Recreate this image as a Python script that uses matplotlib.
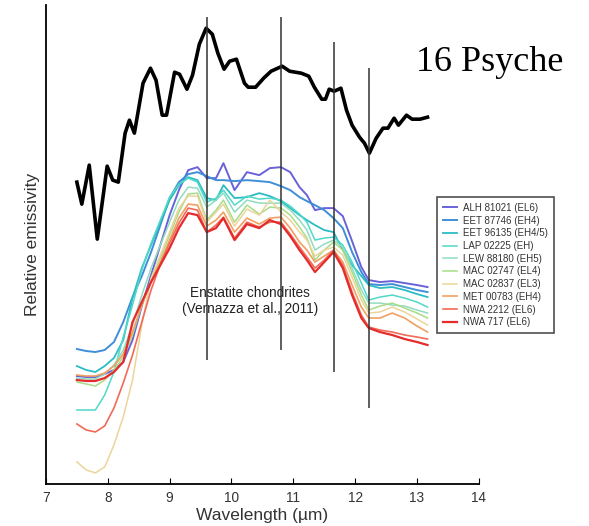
import matplotlib.pyplot as plt

plt.rcParams['font.family'] = ['Liberation Sans', 'DejaVu Sans']

# 16 Psyche spectrum (arbitrary units)
psyche_wl = [7.50, 7.58, 7.70, 7.83, 7.99, 8.08, 8.17, 8.28, 8.35, 8.43, 8.57, 8.69, 8.78, 8.88,
             8.95, 9.08, 9.16, 9.28, 9.37, 9.48, 9.59, 9.69, 9.78, 9.88, 9.97, 10.08, 10.21, 10.27,
             10.39, 10.52, 10.64, 10.82, 10.94, 11.13, 11.25, 11.34, 11.46, 11.52, 11.58, 11.66,
             11.77, 11.86, 11.95, 12.07, 12.15, 12.23, 12.34, 12.45, 12.53, 12.63, 12.70, 12.83,
             12.92, 13.05, 13.17]
psyche_em = [302, 280, 319, 245, 318, 304, 302, 351, 364, 351, 401, 416, 404, 369,
             369, 412, 410, 395, 409, 440, 456, 450, 431, 415, 423, 425, 401, 397,
             397, 406, 413, 418, 413, 411, 408, 397, 385, 385, 395, 393,
             396, 374, 359, 347, 341, 331, 346, 356, 356, 366, 359, 369,
             365, 365, 367]

# enstatite chondrite lab spectra (Vernazza et al., 2011)
lab_wl = [7.5, 7.65, 7.8, 7.95, 8.1, 8.25, 8.4, 8.55, 8.7, 8.85, 9.0, 9.15, 9.3, 9.45, 9.6,
          9.75, 9.87, 10.05, 10.25, 10.45, 10.62, 10.8, 10.95, 11.1, 11.22, 11.35, 11.5, 11.65,
          11.8, 11.95, 12.1, 12.22, 12.4, 12.6, 12.8, 13.0, 13.17]

names = ['ALH 81021 (EL6)', 'EET 87746 (EH4)', 'EET 96135 (EH4/5)', 'LAP 02225 (EH)',
         'LEW 88180 (EH5)', 'MAC 02747 (EL4)', 'MAC 02837 (EL3)', 'MET 00783 (EH4)',
         'NWA 2212 (EL6)', 'NWA 717 (EL6)']
colors = ['#6a62d8', '#3f8fd8', '#2cbcc4', '#50d8c8', '#90dcc0', '#a8dc88',
          '#ecd49a', '#f0a060', '#f06a58', '#e52b2b']
widths = [1.4, 1.4, 1.3, 1.1, 1.1, 1.1, 1.1, 1.2, 1.2, 1.6]

alh = [108, 107, 107, 110, 114, 122, 144, 178, 209, 239, 269, 294, 314, 317, 306,
       306, 321, 294, 312, 309, 316, 317, 312, 297, 289, 274, 276, 276,
       268, 243, 217, 204, 202, 203, 201, 199, 197]
eet87 = [135, 133, 132, 134, 142, 162, 187, 208, 232, 259, 286, 302, 310, 312, 308,
         304, 304, 303, 304, 303, 302, 298, 294, 287, 283, 279, 274, 266,
         256, 232, 212, 200, 199, 200, 197, 194, 192]
eet96 = [118, 114, 112, 118, 126, 144, 186, 216, 239, 262, 284, 299, 307, 304, 286,
         284, 299, 286, 287, 291, 288, 283, 276, 269, 264, 259, 254, 252,
         234, 219, 208, 199, 196, 197, 194, 190, 187]
lap = [74, 74, 74, 89, 112, 147, 179, 214, 241, 264, 287, 300, 306, 302, 282,
       286, 294, 279, 288, 285, 286, 284, 278, 270, 262, 244, 246, 247,
       239, 222, 201, 184, 187, 189, 186, 182, 177]
lew = [106, 105, 105, 110, 119, 134, 159, 189, 216, 239, 262, 284, 297, 296, 277,
       284, 291, 272, 284, 281, 281, 281, 274, 264, 254, 234, 240, 244,
       237, 216, 194, 181, 181, 179, 178, 174, 171]
mac47 = [102, 100, 98, 104, 114, 127, 149, 179, 204, 226, 249, 272, 290, 291, 264,
         274, 284, 262, 279, 270, 277, 276, 269, 257, 246, 224, 234, 242,
         234, 212, 189, 174, 178, 181, 176, 171, 166]
mac37 = [22, 14, 11, 17, 39, 67, 104, 159, 206, 229, 252, 276, 288, 288, 262,
         272, 280, 258, 275, 269, 284, 272, 264, 252, 244, 228, 234, 237,
         229, 207, 184, 171, 172, 177, 172, 165, 159]
met = [109, 108, 108, 111, 118, 130, 152, 179, 202, 222, 244, 266, 280, 279, 258,
       264, 272, 252, 266, 260, 266, 267, 256, 242, 234, 222, 228, 234,
       222, 199, 177, 166, 166, 171, 166, 158, 152]
nwa2212 = [60, 54, 52, 58, 76, 101, 129, 162, 194, 220, 241, 261, 276, 274, 252,
           259, 267, 246, 262, 257, 262, 262, 250, 237, 227, 216, 224, 234,
           219, 192, 169, 157, 154, 152, 149, 147, 145]
nwa717 = [104, 103, 103, 106, 112, 122, 162, 182, 202, 219, 236, 256, 271, 269, 252,
          256, 266, 244, 260, 256, 264, 260, 248, 234, 224, 212, 222, 232,
          216, 189, 166, 156, 152, 149, 145, 142, 139]
lab_em = [alh, eet87, eet96, lap, lew, mac47, mac37, met, nwa2212, nwa717]

# band positions marked by vertical lines
line_wl = [9.6, 10.8, 11.65, 12.22]
line_top = [467, 467, 442, 416]
line_bot = [124, 134, 112, 76]

fig = plt.figure(figsize=(5.89, 5.26), dpi=100)
ax = fig.add_axes([0.078, 0.080, 0.735, 0.910])

for em, name, c, lw in zip(lab_em, names, colors, widths):
    ax.plot(lab_wl, em, color=c, lw=lw, label=name)

ax.plot(psyche_wl, psyche_em, color='black', lw=2.6, solid_joinstyle='round')
ax.vlines(line_wl, line_bot, line_top, color='#333333', lw=1.1)

ax.text(10.3, 183, 'Enstatite chondrites\n(Vernazza et al., 2011)', ha='center', va='center',
        fontsize=9.8, color='#222222', linespacing=1.25)
fig.text(0.832, 0.882, '16 Psyche', family='Liberation Serif', fontsize=26, ha='center', va='center')

ax.set_xlim(7, 14)
ax.set_ylim(0, 479)
ax.set_xticks(range(7, 15))
ax.set_yticks([])
ax.spines['top'].set_visible(False)
ax.spines['right'].set_visible(False)
ax.spines['left'].set_linewidth(1.3)
ax.spines['bottom'].set_linewidth(1.3)
ax.tick_params(axis='x', direction='in', length=4, labelsize=9.8, labelcolor='#333333', pad=5)
ax.set_xlabel('Wavelength (µm)', fontsize=12.5, color='#333333', labelpad=2)
ax.set_ylabel('Relative emissivity', fontsize=12.5, color='#333333', labelpad=4)

leg = ax.legend(loc='upper left', bbox_to_anchor=(0.742, 0.6255), bbox_transform=fig.transFigure,
                borderaxespad=0, fontsize=7, frameon=True, fancybox=False, labelspacing=0.28,
                handlelength=1.5, handletextpad=0.6, borderpad=0.6)
leg.get_frame().set_edgecolor('#222222')
leg.get_frame().set_linewidth(1.2)
for t in leg.get_texts():
    t.set_color('#333333')

fig.savefig('out.png', dpi=100)
